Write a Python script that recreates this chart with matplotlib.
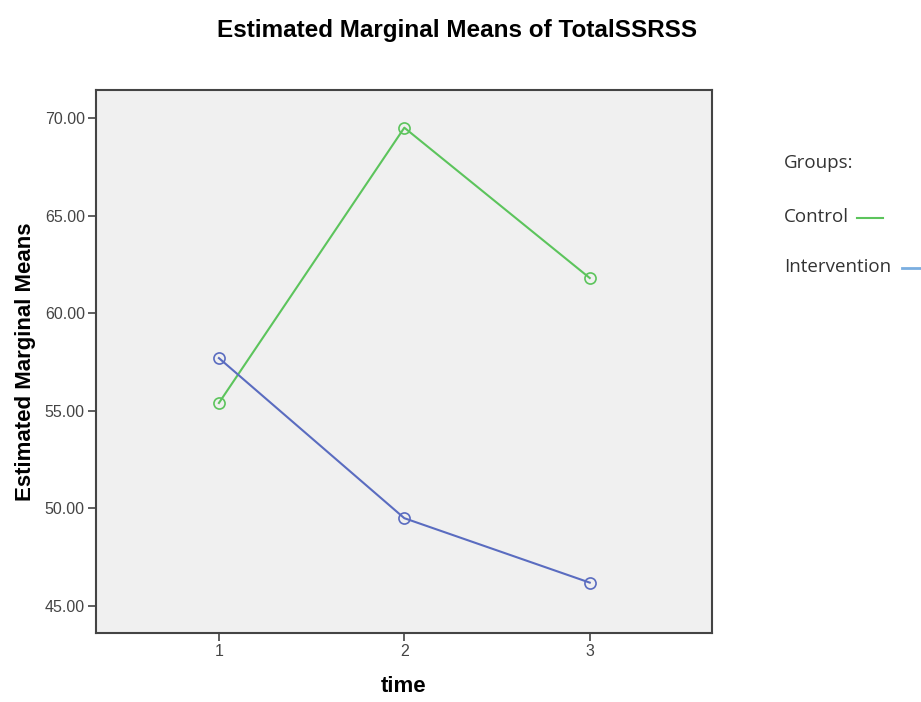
import matplotlib
matplotlib.use('Agg')
import matplotlib.pyplot as plt
from matplotlib.lines import Line2D

# Estimated marginal means
time_points = [1, 2, 3]
control = [55.4, 69.5, 61.8]
intervention = [57.7, 49.5, 46.2]
y_ticks = [45, 50, 55, 60, 65, 70]

green = '#5cc45c'
blue = '#5a6cc0'
legend_blue = '#7aaee0'

plt.rcParams['font.family'] = ['Liberation Sans', 'DejaVu Sans']

fig = plt.figure(figsize=(9.21, 7.02), dpi=100)
ax = fig.add_axes([0.1042, 0.0983, 0.669, 0.7735])
ax.set_facecolor('#f0f0f0')

ax.plot(time_points, control, color=green, lw=1.5, marker='o', ms=8,
        mfc='none', mec=green, mew=1.2)
ax.plot(time_points, intervention, color=blue, lw=1.5, marker='o', ms=8,
        mfc='none', mec=blue, mew=1.2)

ax.set_xlim(0.337, 3.66)
ax.set_ylim(43.62, 71.43)
ax.set_xticks(time_points)
ax.set_xticklabels([str(t) for t in time_points])
ax.set_yticks(y_ticks)
ax.set_yticklabels([f'{v:.2f}' for v in y_ticks])
ax.tick_params(direction='out', length=6, width=1.2, color='#444444',
               labelsize=11.5, labelcolor='#444444', pad=2)
for s in ax.spines.values():
    s.set_color('#444444')
    s.set_linewidth(1.5)

ax.set_xlabel('time', fontsize=16, fontweight='bold', labelpad=12)
ax.set_ylabel('Estimated Marginal Means', fontsize=16, fontweight='bold', labelpad=6)
fig.text(0.496, 0.957, 'Estimated Marginal Means of TotalSSRSS',
         ha='center', va='center', fontsize=17.5, fontweight='bold')

# Legend drawn as plain figure text, SPSS style
leg_font = ['Open Sans', 'DejaVu Sans']
fig.text(0.851, 0.768, 'Groups:', fontsize=13.5, color='#333333', va='center', family=leg_font)
fig.text(0.851, 0.691, 'Control', fontsize=13.5, color='#333333', va='center', family=leg_font)
fig.text(0.851, 0.620, 'Intervention', fontsize=13.5, color='#333333', va='center', family=leg_font)
fig.add_artist(Line2D([0.9305, 0.959], [0.690, 0.690], color=green, lw=1.5,
                      transform=fig.transFigure))
fig.add_artist(Line2D([0.979, 1.0], [0.618, 0.618], color=legend_blue, lw=2,
                      transform=fig.transFigure))

fig.savefig('out.png', dpi=100)
